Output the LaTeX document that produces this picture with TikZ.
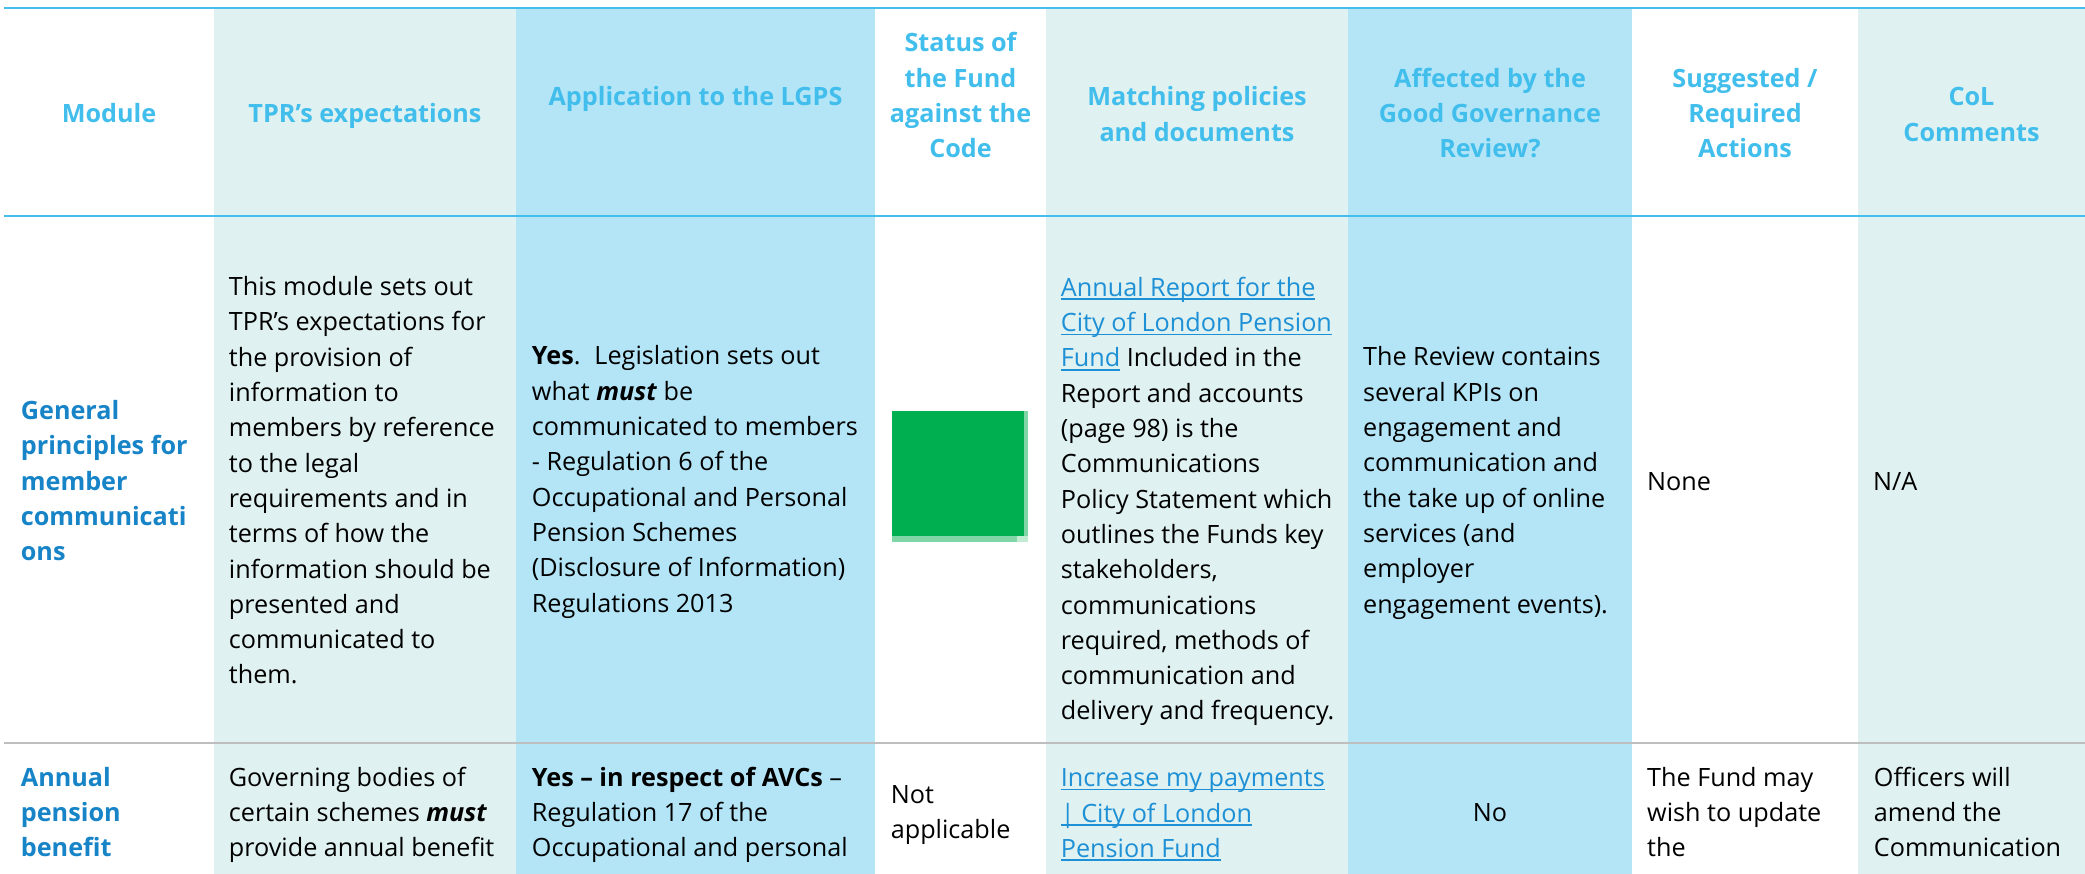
\documentclass[tikz,border=0pt]{standalone}
\usepackage{fontspec}
\setmainfont{Open Sans}
\definecolor{cellteal}{RGB}{223,241,240}
\definecolor{cellblue}{RGB}{179,229,247}
\definecolor{hdrblue}{RGB}{66,190,236}
\definecolor{lblblue}{RGB}{24,132,200}
\definecolor{lnkblue}{RGB}{30,144,214}
\definecolor{okgreen}{RGB}{0,176,80}
\definecolor{shadegreen}{RGB}{128,214,166}
\definecolor{shadelight}{RGB}{194,235,212}
\definecolor{rulegray}{RGB}{190,190,190}
\definecolor{ruleblue}{RGB}{68,190,236}
\newcommand\Lbox[1]{\vtop{\baselineskip=35.3pt\lineskiplimit=-100pt\lineskip=0pt #1}}
\newcommand\Ll[1]{\hbox{#1}}
\newcommand\Cl[1]{\hbox to 0pt{\hss#1\hss}}
\newcommand\ulk[1]{\leavevmode\setbox0\hbox{#1}\rlap{\raisebox{-3.6pt}{\rule{\wd0}{1.6pt}}}\box0}
\newcommand\lnk[1]{\textcolor{lnkblue}{\ulk{#1}}}
\begin{document}
\begin{tikzpicture}[x=1pt,y=-1pt,
  txt/.style={inner sep=0pt,font=\fontsize{25.2}{35.3}\selectfont},
  hdr/.style={txt,text=hdrblue,font=\fontsize{25.2}{35.3}\selectfont\bfseries,anchor=base},
  lbl/.style={txt,text=lblblue,font=\fontsize{25.2}{35.3}\selectfont\bfseries,anchor=base west},
  body/.style={txt,text=black,anchor=base west},
  blueline/.style={draw=ruleblue,line width=2.5pt},
  grayline/.style={draw=rulegray,line width=2pt}]
\useasboundingbox (0,0) rectangle (2085,874);
\fill[white] (0,0) rectangle (2085,874);
% column backgrounds
\fill[cellteal] (214,8) rectangle (516,874);
\fill[cellblue] (516,8) rectangle (875,874);
\fill[cellteal] (1046,8) rectangle (1348,874);
\fill[cellblue] (1348,8) rectangle (1632,874);
\fill[cellteal] (1858,8) rectangle (2085,874);
% rules
\draw[blueline] (4,8) -- (2085,8);
\draw[blueline] (4,216) -- (2085,216);
\draw[grayline] (4,743) -- (2085,743);
% header
\node[hdr] (h1) at (109,123) {\Lbox{\Cl{Module}}};
\node[hdr] (h2) at (365,123) {\Lbox{\Cl{TPR’s expectations}}};
\node[hdr] (h3) at (695.5,106) {\Lbox{\Cl{Application to the LGPS}}};
\node[hdr] (h4) at (960.5,52) {\Lbox{\Cl{Status of}\Cl{the Fund}\Cl{against the}\Cl{Code}}};
\node[hdr] (h5) at (1197,106) {\Lbox{\Cl{Matching policies}\Cl{and documents}}};
\node[hdr] (h6) at (1490,87.3) {\Lbox{\Cl{Affected by the}\Cl{Good Governance}\Cl{Review?}}};
\node[hdr] (h7) at (1745,87.3) {\Lbox{\Cl{Suggested /}\Cl{Required}\Cl{Actions}}};
\node[hdr] (h8) at (1971.5,106) {\Lbox{\Cl{CoL}\Cl{Comments}}};
% row 1
\node[lbl] (r1c1) at (20.7,419.4) {\Lbox{\Ll{General}\Ll{principles for}\Ll{member}\Ll{communicati}\Ll{ons}}};
\node[body] (r1c2) at (228.7,295.7) {\Lbox{\Ll{This module sets out}\Ll{TPR’s expectations for}\Ll{the provision of}\Ll{information to}\Ll{members by reference}\Ll{to the legal}\Ll{requirements and in}\Ll{terms of how the}\Ll{information should be}\Ll{presented and}\Ll{communicated to}\Ll{them.}}};
\node[body] (r1c3) at (531.7,365) {\Lbox{\Ll{\textbf{Yes}.\hspace{14pt}Legislation sets out}\Ll{what \textbf{\textit{must}} be}\Ll{communicated to members}\Ll{- Regulation 6 of the}\Ll{Occupational and Personal}\Ll{Pension Schemes}\Ll{(Disclosure of Information)}\Ll{Regulations 2013}}};
\fill[shadegreen] (1023.3,411) rectangle (1028,535.7);
\fill[shadegreen] (891.7,535.7) rectangle (1016.7,541.7);
\fill[shadelight] (1016.7,535.7) rectangle (1028,541.7);
\node[fill=okgreen,inner sep=0pt,minimum width=131.6pt,minimum height=124.7pt,anchor=north west] (r1c4) at (891.7,411) {};
\node[body] (r1c5) at (1060.7,296.4) {\Lbox{\Ll{\lnk{Annual Report for the}}\Ll{\lnk{City of London Pension}}\Ll{\lnk{Fund} Included in the}\Ll{Report and accounts}\Ll{(page 98) is the}\Ll{Communications}\Ll{Policy Statement which}\Ll{outlines the Funds key}\Ll{stakeholders,}\Ll{communications}\Ll{required, methods of}\Ll{communication and}\Ll{delivery and frequency.}}};
\node[body] (r1c6) at (1362.9,366) {\Lbox{\Ll{The Review contains}\Ll{several KPIs on}\Ll{engagement and}\Ll{communication and}\Ll{the take up of online}\Ll{services (and}\Ll{employer}\Ll{engagement events).}}};
\node[body] (r1c7) at (1647,490) {None};
\node[body] (r1c8) at (1873,490) {N/A};
% row 2
\node[lbl] (r2c1) at (20.7,786) {\Lbox{\Ll{Annual}\Ll{pension}\Ll{benefit}}};
\node[body] (r2c2) at (228.7,786) {\Lbox{\Ll{Governing bodies of}\Ll{certain schemes \textbf{\textit{must}}}\Ll{provide annual benefit}}};
\node[body] (r2c3) at (531.7,786) {\Lbox{\Ll{\textbf{Yes – in respect of AVCs} –}\Ll{Regulation 17 of the}\Ll{Occupational and personal}}};
\node[body] (r2c4) at (890.6,803.3) {\Lbox{\Ll{Not}\Ll{applicable}}};
\node[body] (r2c5) at (1060.7,786.7) {\Lbox{\Ll{\lnk{Increase my payments}}\Ll{\lnk{| City of London}}\Ll{\lnk{Pension Fund}}}};
\node[body,anchor=base] (r2c6) at (1490,821.7) {No};
\node[body] (r2c7) at (1647,786) {\Lbox{\Ll{The Fund may}\Ll{wish to update}\Ll{the}}};
\node[body] (r2c8) at (1873.7,786) {\Lbox{\Ll{Officers will}\Ll{amend the}\Ll{Communication}}};
\end{tikzpicture}
\end{document}
